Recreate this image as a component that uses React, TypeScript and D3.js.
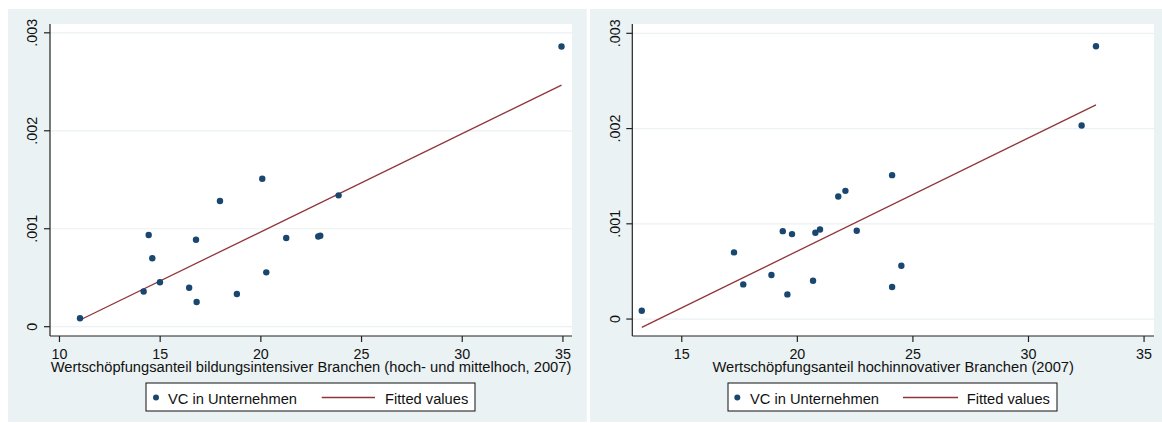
import React from "react";
import * as d3 from "d3";

// Left panel: Wertschöpfungsanteil bildungsintensiver Branchen
const leftX = [11.02, 14.18, 14.43, 14.61, 14.99, 16.44, 16.78, 16.81, 17.97, 18.81, 20.07, 20.27, 21.26, 22.85, 22.95, 23.86, 34.93];
const leftY = [0.000086, 0.00036, 0.000936, 0.000698, 0.000453, 0.000398, 0.000888, 0.000252, 0.001283, 0.000334, 0.00151, 0.000555, 0.000905, 0.00092, 0.000928, 0.001341, 0.002861];
const leftFitX = [11.02, 34.93];
const leftFitY = [0.000068, 0.002466];

// Right panel: Wertschöpfungsanteil hochinnovativer Branchen
const rightX = [13.27, 17.26, 17.66, 18.88, 19.37, 19.57, 19.77, 20.68, 20.78, 20.98, 21.77, 22.08, 22.57, 24.1, 24.1, 24.5, 32.3, 32.92];
const rightY = [0.000087, 0.0007, 0.000364, 0.000462, 0.000923, 0.000259, 0.000892, 0.000402, 0.000906, 0.000941, 0.001287, 0.001346, 0.000927, 0.001511, 0.000336, 0.000559, 0.002032, 0.002865];
const rightFitX = [13.27, 32.92];
const rightFitY = [-0.000087, 0.002249];

const yTickValues = [0, 0.001, 0.002, 0.003];
const yTickLabels = ["0", ".001", ".002", ".003"];
const leftXTicks = [10, 15, 20, 25, 30, 35];
const rightXTicks = [15, 20, 25, 30, 35];

const leftTitle = "Wertschöpfungsanteil bildungsintensiver Branchen (hoch- und mittelhoch, 2007)";
const rightTitle = "Wertschöpfungsanteil hochinnovativer Branchen (2007)";
const legendLabels = ["VC in Unternehmen", "Fitted values"];

const BG = "#eaf2f3";
const DOT = "#1a476f";
const LINE = "#90353b";
const FONT = "'Liberation Sans', Arial, sans-serif";
const FS = 14.7;
const TFS = 14.3;

type PanelProps = {
  bx0: number; bx1: number;
  px0: number; px1: number;
  xDomain: [number, number];
  yDomain: [number, number];
  xs: number[]; ys: number[];
  fx: number[]; fy: number[];
  xTicks: number[];
  title: string;
  legend: { x0: number; x1: number; marker: number; text1: number; l0: number; l1: number; text2: number };
};

function Panel(p: PanelProps) {
  const top = 24, bottom = 336;
  const x = d3.scaleLinear().domain(p.xDomain).range([p.px0, p.px1]);
  const y = d3.scaleLinear().domain(p.yDomain).range([bottom, top]);
  const line = d3.line<number>().x((_, i) => x(p.fx[i])).y((v) => y(v));
  const cx = (p.px0 + p.px1) / 2;
  const lg = p.legend;
  const ly = 397.5;
  return (
    <g>
      <rect x={p.bx0} y={9} width={p.bx1 - p.bx0} height={413} fill={BG} />
      <rect x={p.px0} y={top} width={p.px1 - p.px0} height={bottom - top} fill="#fff" />
      {yTickValues.map((v) => (
        <line key={"g" + v} x1={p.px0} x2={p.px1} y1={y(v)} y2={y(v)} stroke={BG} strokeWidth={1.2} />
      ))}
      <line x1={p.px0} x2={p.px0} y1={top} y2={bottom} stroke="#222" strokeWidth={1.2} />
      <line x1={p.px0} x2={p.px1} y1={bottom} y2={bottom} stroke="#222" strokeWidth={1.2} />
      {yTickValues.map((v, i) => (
        <g key={"yt" + v}>
          <line x1={p.px0 - 6} x2={p.px0} y1={y(v)} y2={y(v)} stroke="#222" strokeWidth={1.2} />
          <text
            transform={`translate(${p.px0 - 12.8},${y(v)}) rotate(-90)`}
            textAnchor="middle"
            fontFamily={FONT}
            fontSize={TFS}
            fill="#111"
          >
            {yTickLabels[i]}
          </text>
        </g>
      ))}
      {p.xTicks.map((v) => (
        <g key={"xt" + v}>
          <line x1={x(v)} x2={x(v)} y1={bottom} y2={bottom + 6} stroke="#222" strokeWidth={1.2} />
          <text x={x(v)} y={358.5} textAnchor="middle" fontFamily={FONT} fontSize={TFS} fill="#111">
            {v}
          </text>
        </g>
      ))}
      <text x={cx} y={372.3} textAnchor="middle" fontFamily={FONT} fontSize={FS} fill="#111">
        {p.title}
      </text>
      <path d={line(p.fy) || ""} fill="none" stroke={LINE} strokeWidth={1.3} />
      {p.xs.map((v, i) => (
        <circle key={"pt" + i} cx={x(v)} cy={y(p.ys[i])} r={3.2} fill={DOT} />
      ))}
      <rect x={lg.x0} y={383} width={lg.x1 - lg.x0} height={28} fill="#fff" stroke="#111" strokeWidth={1} />
      <circle cx={lg.marker} cy={ly} r={3} fill={DOT} />
      <text x={lg.text1} y={404} fontFamily={FONT} fontSize={FS} fill="#111">
        {legendLabels[0]}
      </text>
      <line x1={lg.l0} x2={lg.l1} y1={ly} y2={ly} stroke={LINE} strokeWidth={1.3} />
      <text x={lg.text2} y={404} fontFamily={FONT} fontSize={FS} fill="#111">
        {legendLabels[1]}
      </text>
    </g>
  );
}

export default function App() {
  return (
    <svg
      width={1162}
      height={423}
      style={{ position: "absolute", left: 0, top: 0, background: "#fff" }}
    >
      <Panel
        bx0={8} bx1={586.7}
        px0={50} px1={572}
        xDomain={[9.53, 35.45]}
        yDomain={[-0.000095, 0.00309]}
        xs={leftX} ys={leftY}
        fx={leftFitX} fy={leftFitY}
        xTicks={leftXTicks}
        title={leftTitle}
        legend={{ x0: 146, x1: 475, marker: 156, text1: 168, l0: 321.7, l1: 375, text2: 385 }}
      />
      <Panel
        bx0={590} bx1={1162}
        px0={632.3} px1={1154}
        xDomain={[12.86, 35.43]}
        yDomain={[-0.000178, 0.003098]}
        xs={rightX} ys={rightY}
        fx={rightFitX} fy={rightFitY}
        xTicks={rightXTicks}
        title={rightTitle}
        legend={{ x0: 728, x1: 1057, marker: 737.3, text1: 750, l0: 903, l1: 958, text2: 966.7 }}
      />
    </svg>
  );
}
